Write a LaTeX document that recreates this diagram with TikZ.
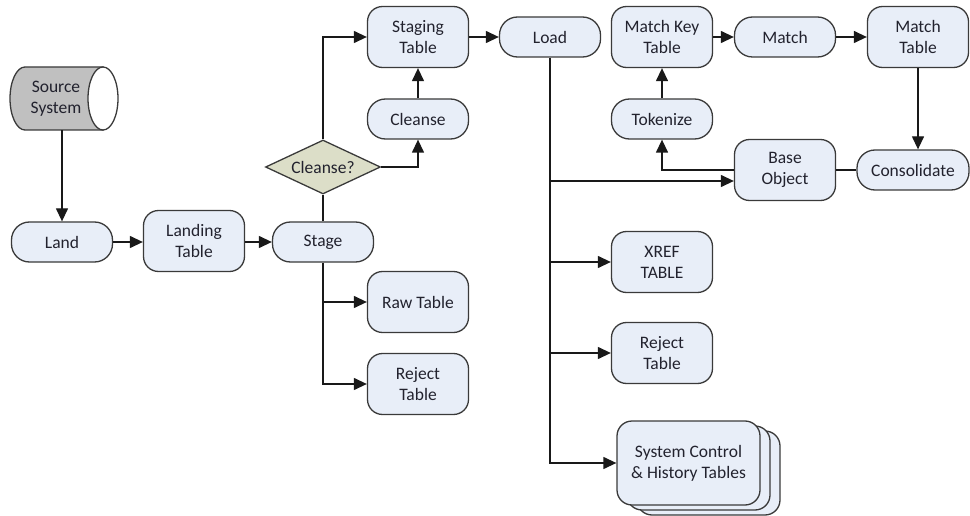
\documentclass[tikz,border=0pt]{standalone}
\usepackage{fontspec}
\setmainfont{Carlito}
\usetikzlibrary{arrows.meta,shapes.geometric,calc}
\definecolor{boxfill}{HTML}{E8EEF8}
\definecolor{boxdraw}{HTML}{3A3A3A}
\definecolor{diafill}{HTML}{DCDEC8}
\definecolor{cylfill}{HTML}{C0C0C0}
\definecolor{txt}{HTML}{22222E}
\tikzset{
  base/.style={draw=boxdraw, fill=boxfill, line width=1.3pt, inner sep=0pt, align=center,
    text=txt, font=\fontsize{17.5}{21}\selectfont},
  pill/.style={base, rounded corners=18pt, minimum width=101pt, minimum height=40pt},
  tbl/.style={base, rounded corners=15pt, minimum width=101pt, minimum height=61pt},
  conn/.style={draw=black!90, line width=1.3pt},
  arr/.style={conn, -{Triangle[length=13pt,width=12pt]}},
}
\begin{document}
\begin{tikzpicture}[x=1pt,y=1pt]
\useasboundingbox (0,0) rectangle (970,-516);
% source cylinder
\path[draw=boxdraw, fill=cylfill, line width=1.3pt] (103,-67) -- (25,-67)
  arc[start angle=90, end angle=270, x radius=15pt, y radius=31.5pt] -- (103,-130) -- cycle;
\path[draw=boxdraw, fill=white, line width=1.3pt] (103,-98.5) ellipse[x radius=15pt, y radius=31.5pt];
\node[inner sep=0pt, minimum width=108pt, minimum height=63pt] (src) at (64,-98.5) {};
\node[align=center, text=txt, font=\fontsize{17.5}{21}\selectfont, inner sep=0pt] (srct) at (56,-98.5) {Source\\System};

\node[pill] (land) at (62,-242) {Land};
\node[tbl] (landing) at (194,-241) {Landing\\Table};
\node[pill] (stage) at (323,-242) {Stage};
\node[base, diamond, fill=diafill, aspect=2.13, minimum width=115pt, minimum height=54pt, rounded corners=0pt] (cq) at (323,-167) {Cleanse?};
\node[pill] (cleanse) at (418,-119) {Cleanse};
\node[tbl] (staging) at (418,-37) {Staging\\Table};
\node[pill] (load) at (550,-37) {Load};
\node[tbl] (mkt) at (662,-37) {Match Key\\Table};
\node[pill] (match) at (785,-37) {Match};
\node[tbl] (mt) at (918,-37) {Match\\Table};
\node[pill] (tok) at (662,-119) {Tokenize};
\node[tbl] (bo) at (785,-170) {Base\\Object};
\node[pill, minimum width=112pt] (cons) at (913,-170) {Consolidate};
\node[tbl] (raw) at (418,-302) {Raw Table};
\node[tbl] (rej1) at (418,-384) {Reject\\Table};
\node[tbl] (xref) at (662,-262) {XREF\\TABLE};
\node[tbl] (rej2) at (662,-353) {Reject\\Table};
\node[tbl, minimum width=143pt, minimum height=84pt] (sys3) at (708.5,-473) {};
\node[tbl, minimum width=143pt, minimum height=84pt] (sys2) at (698.5,-468) {};
\node[tbl, minimum width=143pt, minimum height=84pt] (sys) at (688.5,-463) {System Control\\\& History Tables};

% connectors
\draw[arr] (land.north |- src.south) -- (land.north);
\draw[arr] (land.east) -- (land.east -| landing.west);
\draw[arr] (landing.east |- stage.west) -- (stage.west);
\draw[conn] (stage.north) -- (cq.south);
\draw[arr] (cq.north) |- (staging.west);
\draw[arr] (cq.east) -| (cleanse.south);
\draw[arr] (cleanse.north) -- (staging.south);
\draw[arr] (staging.east |- load.west) -- (load.west);
\draw[arr] (load.south) |- (sys.west);
\draw[arr] ($(load.south |- bo.west)+(0,-11)$) -- ($(bo.west)+(0,-11)$);
\draw[arr] (load.south |- xref.west) -- (xref.west);
\draw[arr] (load.south |- rej2.west) -- (rej2.west);
\draw[arr] (stage.south) |- (rej1.west);
\draw[arr] (stage.south |- raw.west) -- (raw.west);
\draw[arr] (mkt.east |- match.west) -- (match.west);
\draw[arr] (match.east) -- (match.east -| mt.west);
\draw[arr] (tok.north) -- (mkt.south);
\draw[arr] (bo.west) -| (tok.south);
\draw[arr] (mt.south) -- (mt.south |- cons.north);
\draw[conn] (cons.west) -- (bo.east);
\end{tikzpicture}
\end{document}
